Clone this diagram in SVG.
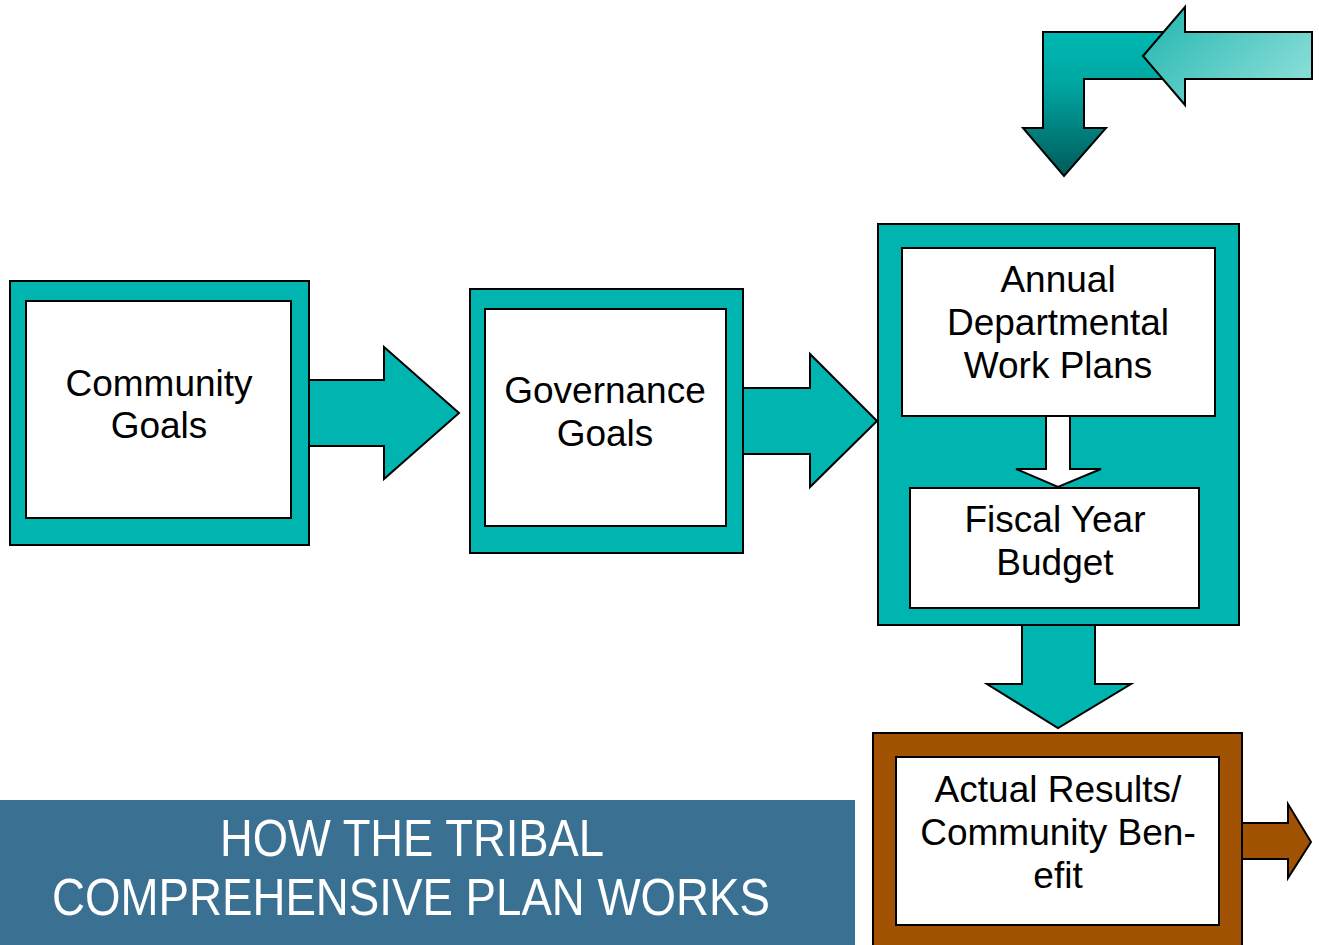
<svg xmlns="http://www.w3.org/2000/svg" width="1319" height="945" viewBox="0 0 1319 945">
<defs>
<linearGradient id="gBent" x1="0" y1="0" x2="0" y2="1">
<stop offset="0" stop-color="#00B8B2"/>
<stop offset="0.35" stop-color="#00A8A3"/>
<stop offset="1" stop-color="#005A5A"/>
</linearGradient>
<linearGradient id="gLeft" x1="0" y1="0" x2="1" y2="0.6">
<stop offset="0" stop-color="#1FB5AE"/>
<stop offset="1" stop-color="#86DCD6"/>
</linearGradient>
<style>
.teal{fill:#00B5B0;stroke:#000;stroke-width:2}
.brown{fill:#A15203;stroke:#000;stroke-width:2}
.white{fill:#fff;stroke:#000;stroke-width:2}
.lbl{font-family:"Liberation Sans",Arial,sans-serif;font-size:37px;fill:#000;text-anchor:middle}
.title{font-family:"Liberation Sans",Arial,sans-serif;font-size:52px;fill:#fff}
</style>
</defs>
<rect width="1319" height="945" fill="#fff"/>

<g id="connectors">
<polygon class="teal" points="309,380 384,380 384,347 459,413 384,479 384,446 309,446"/>
<polygon class="teal" points="743,388 810,388 810,354 877,421 810,487 810,454 743,454"/>
<polygon class="teal" points="1022,625 1095,625 1095,684 1131,684 1058,728 987,684 1022,684"/>
<polygon class="brown" points="1242,823 1288,823 1288,804 1311,842 1288,878 1288,859 1242,859"/>
<polygon points="1043,32 1175,32 1175,79 1084,79 1084,128 1106,128 1064,176 1023,128 1043,128" fill="url(#gBent)" stroke="#000" stroke-width="2"/>
<polygon points="1143,56 1185,7 1185,32 1312,32 1312,79 1185,79 1185,105" fill="url(#gLeft)" stroke="#000" stroke-width="2"/>
</g>

<g id="community">
<rect class="teal" x="10" y="281" width="299" height="264"/>
<rect class="white" x="26" y="301" width="265" height="217"/>
<text class="lbl" x="159" y="396">Community</text>
<text class="lbl" x="159" y="438">Goals</text>
</g>

<g id="governance">
<rect class="teal" x="470" y="289" width="273" height="264"/>
<rect class="white" x="485" y="309" width="241" height="217"/>
<text class="lbl" x="605" y="403">Governance</text>
<text class="lbl" x="605" y="446">Goals</text>
</g>

<g id="plans">
<rect class="teal" x="878" y="224" width="361" height="401"/>
<rect class="white" x="902" y="248" width="313" height="168"/>
<text class="lbl" x="1058" y="292">Annual</text>
<text class="lbl" x="1058" y="335">Departmental</text>
<text class="lbl" x="1058" y="378">Work Plans</text>
<polygon class="white" points="1046,416 1070,416 1070,469 1101,469 1058,487 1016,469 1046,469"/>
<rect class="white" x="910" y="488" width="289" height="120"/>
<text class="lbl" x="1055" y="532">Fiscal Year</text>
<text class="lbl" x="1055" y="575">Budget</text>
</g>

<g id="results">
<rect class="brown" x="873" y="733" width="369" height="230"/>
<rect class="white" x="896" y="757" width="323" height="168"/>
<text class="lbl" x="1058" y="802">Actual Results/</text>
<text class="lbl" x="1058" y="845">Community Ben-</text>
<text class="lbl" x="1058" y="888">efit</text>
</g>

<g id="title">
<rect x="0" y="800" width="855" height="145" fill="#3A7193"/>
<text class="title" x="220" y="856" textLength="384" lengthAdjust="spacingAndGlyphs">HOW THE TRIBAL</text>
<text class="title" x="52" y="915" textLength="718" lengthAdjust="spacingAndGlyphs">COMPREHENSIVE PLAN WORKS</text>
</g>
</svg>
